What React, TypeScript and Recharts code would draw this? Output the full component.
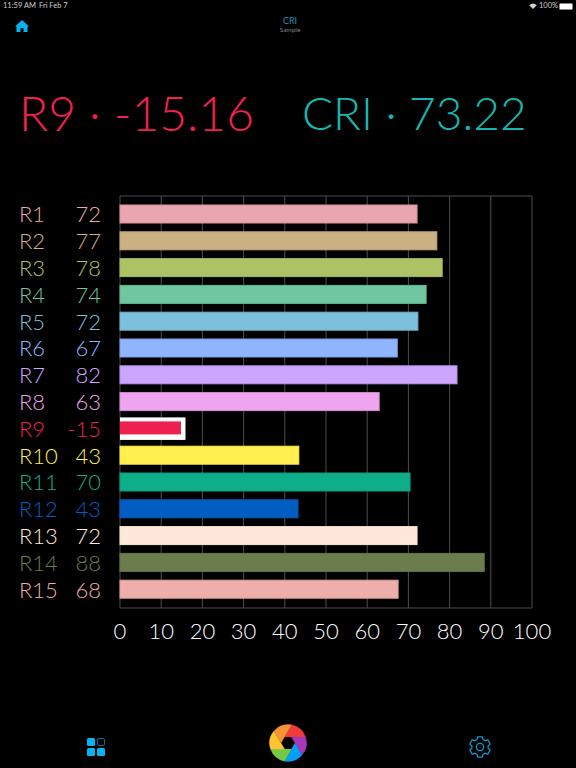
import { BarChart, Bar, XAxis, YAxis, CartesianGrid, Cell } from "recharts";

const FONT = 'Lato, "Open Sans", sans-serif';

const names = ["R1", "R2", "R3", "R4", "R5", "R6", "R7", "R8", "R9", "R10", "R11", "R12", "R13", "R14", "R15"];
const shown = [72, 77, 78, 74, 72, 67, 82, 63, -15, 43, 70, 43, 72, 88, 68];
const lengths = [72.1, 76.9, 78.2, 74.3, 72.3, 67.3, 81.8, 62.9, 14.8, 43.4, 70.4, 43.2, 72.1, 88.4, 67.5];
const barColors = [
  "#e9a6b1", "#cbb083", "#adc264", "#70c6a0", "#7dc0dd", "#8fb5ff", "#cca5ff", "#eea5ee",
  "#ee2050", "#fff04f", "#0eae8a", "#005ec2", "#ffe8da", "#6b7d4d", "#eeaeab",
];
const strokeColors = [
  "#d9929e", "#c2a77c", "#a3b85e", "#62b892", "#6fb0cc", "#7aa0dc", "#b490e6", "#d48ed4",
  "#e81c4c", "#f7e84a", "#0c9c7c", "#0a58b8", "#f7e6da", "#64754a", "#dc9f9c",
];
const xTicks = [0, 10, 20, 30, 40, 50, 60, 70, 80, 90, 100];

const table = names.map((name, i) => ({ name, shown: shown[i], length: lengths[i] }));

function RowLabel({ x, y, payload, index }: any) {
  return (
    <g fontFamily={FONT} fontWeight={300} fontSize={22} fill={barColors[index]}>
      <text x={19} y={y + 8}>{payload.value}</text>
      <text x={x - 11} y={y + 8} textAnchor="end">{shown[index]}</text>
    </g>
  );
}

// R9 is the flagged row, it gets a white box round the bar
function RowBar({ x, y, width, height, fill, index }: any) {
  if (names[index] === "R9") {
    return (
      <g>
        <rect x={x} y={y - 2} width={width + 4.5} height={height + 4.5} fill="#ffffff" />
        <rect x={x} y={y + 2} width={width} height={height - 5} fill={fill} />
      </g>
    );
  }
  return <rect x={x} y={y} width={width} height={height} fill={fill} stroke={strokeColors[index]} strokeWidth={1} />;
}

function Aperture() {
  const blades = ["#ef3b3b", "#a737b5", "#05a0f5", "#74c947", "#fec32e", "#f59433"];
  return (
    <svg width={38} height={38} viewBox="-19 -19 38 38" style={{ position: "absolute", left: 269, top: 724 }}>
      <g transform="rotate(-30)">
        {blades.map((c, i) => (
          <path
            key={c}
            d="M 0 -7 L 12.11 -13.99 A 18.5 18.5 0 0 1 18.17 3.49 L 6.06 -3.5 Z"
            fill={c}
            stroke={c}
            strokeWidth={0.3}
            transform={`rotate(${i * 60})`}
          />
        ))}
      </g>
    </svg>
  );
}

function Gear() {
  return (
    <svg width={24} height={24} viewBox="0 0 24 24" style={{ position: "absolute", left: 468, top: 735 }}>
      <g fill="none" stroke="#0a9fd8" strokeWidth={1.2} strokeLinejoin="round">
        <circle cx={12} cy={12} r={3.6} />
        <path d="M 9.6 1.8 L 14.4 1.8 L 15 4.6 L 17.1 5.8 L 19.8 4.9 L 22.2 9 L 20.1 10.9 L 20.1 13.1 L 22.2 15 L 19.8 19.1 L 17.1 18.2 L 15 19.4 L 14.4 22.2 L 9.6 22.2 L 9 19.4 L 6.9 18.2 L 4.2 19.1 L 1.8 15 L 3.9 13.1 L 3.9 10.9 L 1.8 9 L 4.2 4.9 L 6.9 5.8 L 9 4.6 Z" />
      </g>
    </svg>
  );
}

export default function App() {
  return (
    <div style={{ position: "absolute", left: 0, top: 0, width: 576, height: 768, background: "#000", overflow: "hidden", fontFamily: FONT }}>
      {/* status bar */}
      <div style={{ position: "absolute", left: 3, top: 1, fontSize: 7.5, lineHeight: "10px", color: "#cfcfcf", whiteSpace: "pre" }}>11:59 AM</div>
      <div style={{ position: "absolute", left: 39, top: 1, fontSize: 7.5, lineHeight: "10px", color: "#cfcfcf", whiteSpace: "pre" }}>Fri Feb 7</div>
      <svg width={8} height={6} viewBox="0 0 10 8" style={{ position: "absolute", left: 529, top: 3 }}>
        <path d="M 0 3 Q 5 -1.5 10 3 L 5 8 Z" fill="#cfcfcf" />
      </svg>
      <div style={{ position: "absolute", left: 539, top: 1, fontSize: 7.5, lineHeight: "10px", color: "#cfcfcf" }}>100%</div>
      <div style={{ position: "absolute", left: 559, top: 3, width: 12, height: 5, background: "#fff", border: "0.5px solid #888", borderRadius: 1.5 }} />

      {/* nav bar */}
      <svg width={14} height={14} viewBox="0 0 14 14" style={{ position: "absolute", left: 15, top: 19 }}>
        <path d="M 7 1 L 14 7.5 L 12.5 7.5 L 12.5 13 L 8.5 13 L 8.5 9 L 5.5 9 L 5.5 13 L 1.5 13 L 1.5 7.5 L 0 7.5 Z" fill="#05b4f0" />
      </svg>
      <div style={{ position: "absolute", left: 0, width: 580, top: 15, textAlign: "center", fontSize: 9, color: "#2a8cb8" }}>CRI</div>
      <div style={{ position: "absolute", left: 0, width: 580, top: 26, textAlign: "center", fontSize: 6.5, color: "#808080" }}>Sample</div>

      {/* headline figures */}
      <div style={{ position: "absolute", left: 19, top: 84, fontSize: 48, fontWeight: 300, color: "#f02050", whiteSpace: "pre" }}>R9 · -15.16</div>
      <div style={{ position: "absolute", left: 302, top: 85, fontSize: 46, fontWeight: 300, color: "#14b8b0", whiteSpace: "pre" }}>CRI · 73.22</div>

      <div style={{ position: "absolute", left: 0, top: 0 }}>
        <BarChart
          width={576}
          height={768}
          data={table}
          layout="vertical"
          barCategoryGap={0}
          margin={{ top: 196, right: 44, bottom: 128, left: 0 }}
        >
          <CartesianGrid
            stroke="#4d4d4d"
            strokeWidth={1}
            horizontalCoordinatesGenerator={({ offset }: any) => [offset.top, offset.top + offset.height]}
          />
          <XAxis
            type="number"
            domain={[0, 100]}
            ticks={xTicks}
            interval={0}
            axisLine={false}
            tickLine={false}
            tickMargin={9}
            height={32}
            tick={{ fill: "#ffffff", fontSize: 22, fontWeight: 300, fontFamily: FONT }}
          />
          <YAxis
            type="category"
            dataKey="name"
            width={120}
            interval={0}
            axisLine={false}
            tickLine={false}
            padding={{ top: 5, bottom: 5 }}
            tick={RowLabel}
          />
          <Bar dataKey="length" barSize={18} isAnimationActive={false} shape={RowBar}>
            {table.map((row, i) => (
              <Cell key={row.name} fill={barColors[i]} />
            ))}
          </Bar>
        </BarChart>
      </div>

      {/* tab bar */}
      <svg width={20} height={20} viewBox="0 0 20 20" style={{ position: "absolute", left: 86, top: 737 }}>
        <rect x={1} y={1} width={8} height={8} rx={1.5} fill="#05b4f0" />
        <rect x={11.5} y={1.5} width={7} height={7} rx={1.5} fill="none" stroke="#0a6f96" />
        <rect x={1} y={11} width={8} height={8} rx={1.5} fill="#05b4f0" />
        <rect x={11} y={11} width={8} height={8} rx={1.5} fill="#05b4f0" />
      </svg>
      <Aperture />
      <Gear />
    </div>
  );
}
